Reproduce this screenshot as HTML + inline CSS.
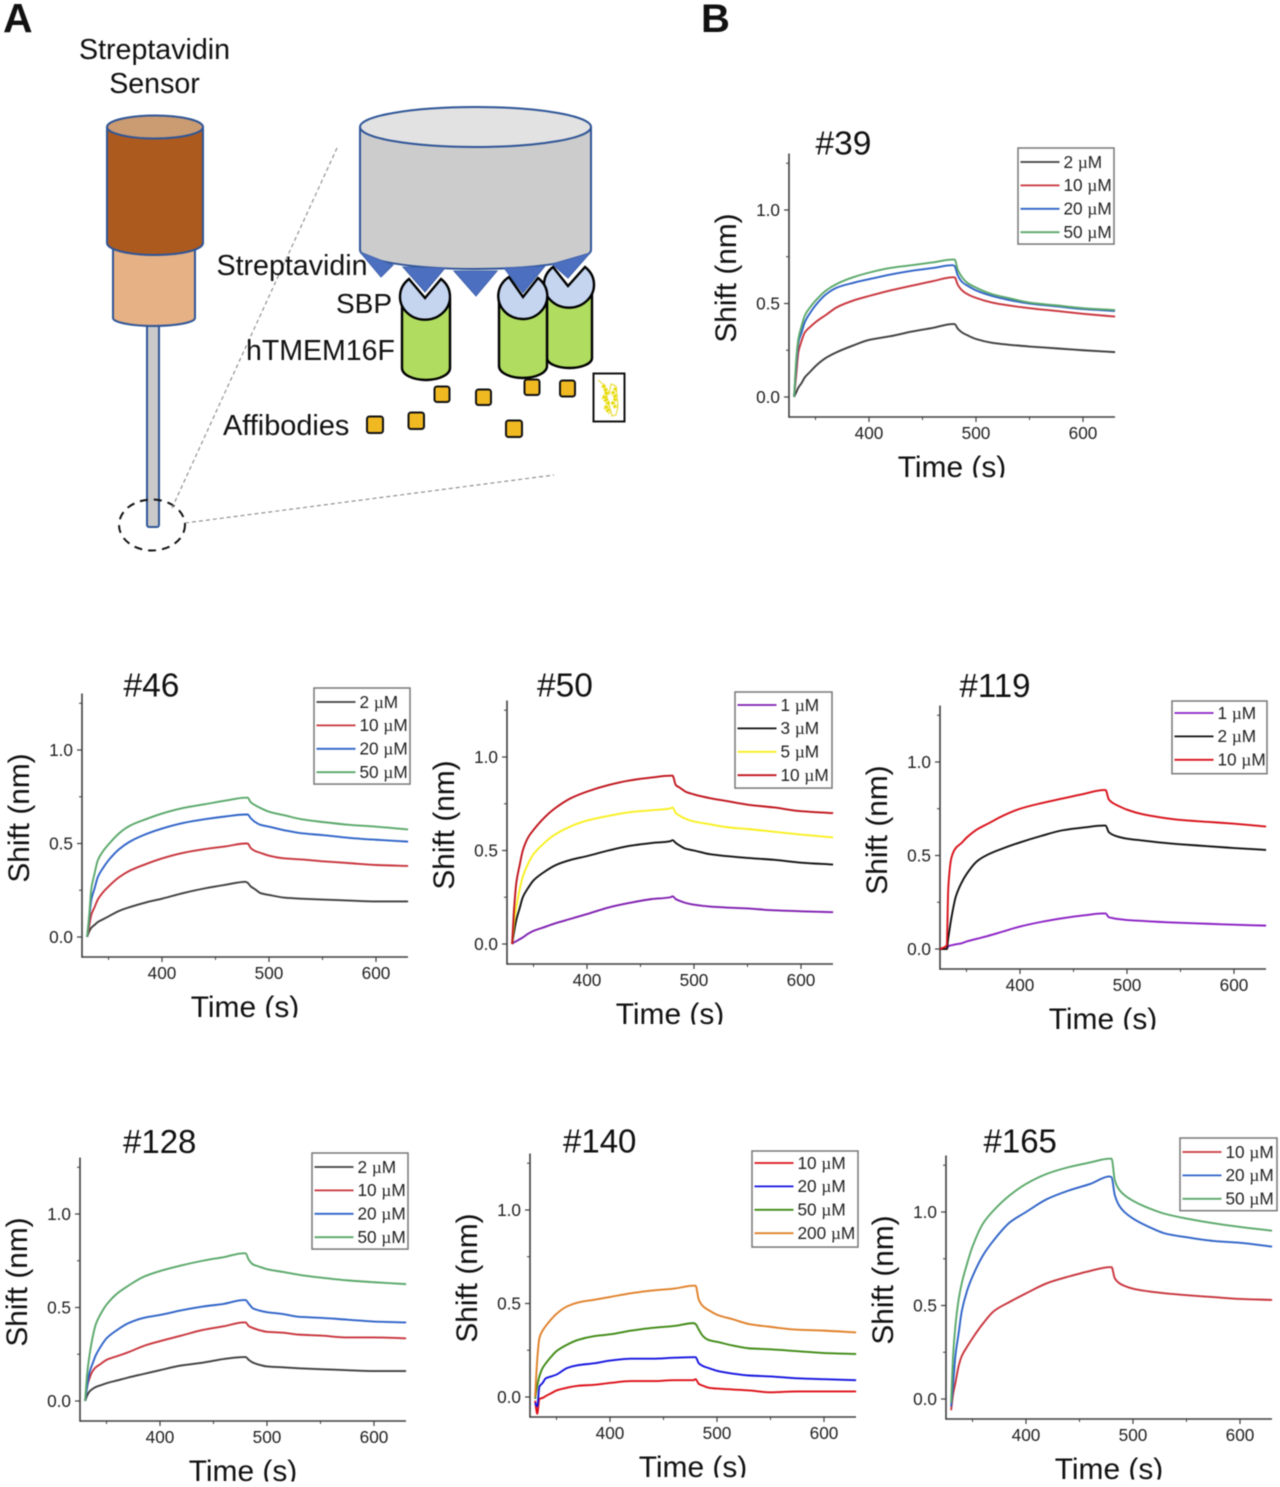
<!DOCTYPE html>
<html lang="en">
<head>
<meta charset="utf-8">
<title>Streptavidin sensor schematic and affibody binding curves</title>
<style>
html,body{margin:0;padding:0;background:#fff;}
#figure{display:block;width:1280px;height:1487px;filter:blur(0.45px);font-family:"Liberation Sans",sans-serif;}
</style>
</head>
<body>
<svg id="figure" xmlns="http://www.w3.org/2000/svg" width="1280" height="1487" viewBox="0 0 1280 1487">
  <rect x="0" y="0" width="1280" height="1487" fill="#fff"/>
  <text x="3" y="32" font-size="41" font-weight="bold" fill="#111">A</text>
  <text x="701" y="32" font-size="40" font-weight="bold" fill="#111">B</text>

  <g>
    <text x="154.5" y="59" font-size="28.6" text-anchor="middle" fill="#111">Streptavidin</text>
    <text x="154.5" y="93" font-size="28.6" text-anchor="middle" fill="#111">Sensor</text>

    <g stroke="#2f5597" stroke-width="2">
      <rect x="147" y="320" width="12" height="207" rx="2" fill="#c9c9c9"/>
      <path d="M113,245 V318 A41,8 0 0 0 195,318 V245 Z" fill="#e5b185"/>
      <path d="M107,128 V243 A48,12 0 0 0 203,243 V128 Z" fill="#ad5a1f"/>
      <ellipse cx="155" cy="127" rx="48" ry="11.5" fill="#cb9b72"/>
    </g>
    <ellipse cx="152" cy="525" rx="33" ry="25.5" fill="none" stroke="#111" stroke-width="2" stroke-dasharray="8 6"/>
    <line x1="337" y1="148" x2="172" y2="508" stroke="#888" stroke-width="1.1" stroke-dasharray="4 3"/>
    <line x1="185" y1="523" x2="554" y2="475" stroke="#888" stroke-width="1.1" stroke-dasharray="4 3"/>

    <g stroke="#2f5597" stroke-width="2">
      <path d="M360,127 V250 A115.5,19 0 0 0 591,250 V127 Z" fill="#cccccc"/>
      <ellipse cx="475.5" cy="127" rx="115.5" ry="20" fill="#e2e2e2"/>
    </g>
    <g fill="#4d6fc0" stroke="#3f62ad" stroke-width="1">
      <polygon points="360,252 393,265 381,277"/>
      <polygon points="454,271 497,271 476,296"/>
    </g>

    <g stroke="#000" stroke-width="2.4">
      <path d="M547,290 V358 A22.5,10 0 0 0 592,358 V290 Z" fill="#b0dd60"/>
      <path d="M553,267 L568,286 L585,267 A25,23 0 1 1 553,267 Z" fill="#c5d5f0"/>
    </g>
    <g stroke="#000" stroke-width="2.4">
      <path d="M499,300 V366 A24,12 0 0 0 547,366 V300 Z" fill="#b0dd60"/>
      <path d="M509,277 L523,297 L538,278 A24.5,23 0 1 1 509,277 Z" fill="#c5d5f0"/>
    </g>
    <g stroke="#000" stroke-width="2.4">
      <path d="M402,300 V368 A24,12 0 0 0 450,368 V300 Z" fill="#b0dd60"/>
      <path d="M409,279 L425,298 L441,279 A25,23 0 1 1 409,279 Z" fill="#c5d5f0"/>
    </g>
    <g fill="#4d6fc0" stroke="#3f62ad" stroke-width="1">
      <polygon points="504,268 545,266 523,293"/>
      <polygon points="552,264 590,253 568,278"/>
      <polygon points="403,267 445,268 425,292"/>
    </g>

    <g fill="#f0b922" stroke="#111" stroke-width="2">
      <rect x="434.5" y="386.5" width="15" height="15.5" rx="2.5"/>
      <rect x="476" y="389.5" width="15" height="15.5" rx="2.5"/>
      <rect x="524.5" y="379.5" width="15" height="15.5" rx="2.5"/>
      <rect x="560" y="380.5" width="15" height="16" rx="2.5"/>
      <rect x="367" y="416.5" width="16" height="16.5" rx="2.5"/>
      <rect x="408.5" y="412.5" width="15.5" height="16.5" rx="2.5"/>
      <rect x="506" y="420.5" width="16" height="16.5" rx="2.5"/>
    </g>
    <g>
      <rect x="593.5" y="373.5" width="31" height="48" fill="#fff" stroke="#111" stroke-width="2"/>
      <path d="M598,380 L604,385 L612,416 L616,415 L618,406 L616,386 L611,384 L609,395" fill="none" stroke="#e6d820" stroke-width="1"/>
      <path d="M603,385 L607,392 L604,398 L608,403 L606,408 L610,413" fill="none" stroke="#e8dc10" stroke-width="4" stroke-dasharray="3 1"/>
      <path d="M616,388 L613,393 L616,398 L613,403 L616,408" fill="none" stroke="#e8dc10" stroke-width="3.6" stroke-dasharray="3 1"/>
    </g>

    <text x="216.5" y="275" font-size="28.6" fill="#111">Streptavidin</text>
    <text x="336" y="313" font-size="28" fill="#111">SBP</text>
    <text x="246" y="360" font-size="28.5" fill="#111">hTMEM16F</text>
    <text x="223" y="435" font-size="28.9" fill="#111">Affibodies</text>
  </g>
  <g id="charts"></g>
</svg>

<script>
// ---------- Sample times (s) ----------
const sharedTimes = [330,332,334,337,340,345,350,360,370,385,400,420,440,460,478,480,483,487,492,500,515,530,550,575,600,630];
const clone119Times = [325,331.5,333,336,340,345,350,360,370,385,400,420,440,460,478,480,483,487,492,500,515,530,550,575,600,630];

// ---------- Tick labels ----------
const xMajorTicks = [400,500,600];
const xMinorTicks = [350,450,550];
const yMajorTicks = [0,0.5,1.0];
const yMinorTicks = [0.25,0.75,1.25];

// ---------- Clone #39 ----------
const c39Labels = ["2 µM","10 µM","20 µM","50 µM"];
const c39_2 = [0,.025,.05,.075,.105,.135,.165,.21,.24,.275,.305,.325,.35,.37,.39,.39,.365,.345,.33,.31,.29,.28,.27,.26,.25,.24];
const c39_10 = [0,.12,.24,.3,.345,.375,.4,.44,.48,.515,.54,.57,.595,.62,.64,.64,.6,.57,.55,.53,.505,.49,.475,.46,.445,.43];
const c39_20 = [0,.17,.29,.345,.4,.45,.49,.55,.585,.61,.63,.655,.675,.69,.705,.7,.65,.615,.595,.57,.54,.52,.5,.485,.47,.46];
const c39_50 = [0,.2,.31,.38,.435,.48,.515,.57,.605,.64,.665,.69,.705,.72,.735,.735,.68,.64,.61,.585,.55,.53,.505,.49,.475,.465];

// ---------- Clone #46 ----------
const c46Labels = ["2 µM","10 µM","20 µM","50 µM"];
const c46_2 = [0,.03,.05,.065,.08,.095,.11,.14,.16,.185,.205,.235,.26,.28,.295,.29,.27,.255,.235,.225,.21,.205,.2,.195,.19,.19];
const c46_10 = [0,.06,.12,.16,.2,.24,.27,.32,.355,.39,.42,.45,.47,.485,.5,.5,.475,.46,.45,.435,.42,.415,.405,.395,.385,.38];
const c46_20 = [0,.1,.2,.26,.32,.37,.41,.47,.51,.55,.58,.61,.63,.645,.655,.655,.635,.615,.6,.59,.57,.555,.545,.53,.52,.51];
const c46_50 = [0,.12,.26,.34,.41,.46,.495,.555,.595,.63,.66,.69,.71,.73,.745,.745,.72,.705,.69,.67,.65,.63,.615,.6,.59,.575];

// ---------- Clone #50 ----------
const c50Labels = ["1 µM","3 µM","5 µM","10 µM"];
const c50_1 = [0,.01,.015,.025,.035,.055,.07,.09,.11,.135,.16,.195,.22,.24,.25,.255,.24,.23,.22,.21,.2,.195,.19,.18,.175,.17];
const c50_3 = [0,.07,.13,.19,.25,.3,.34,.385,.42,.45,.47,.5,.525,.54,.55,.555,.54,.525,.51,.5,.48,.47,.46,.45,.435,.425];
const c50_5 = [0,.12,.2,.29,.36,.43,.48,.54,.585,.63,.66,.685,.705,.715,.725,.73,.7,.685,.67,.655,.64,.625,.615,.6,.585,.57];
const c50_10 = [0,.2,.33,.42,.5,.57,.61,.675,.725,.78,.815,.85,.875,.89,.9,.9,.85,.835,.815,.8,.78,.765,.745,.73,.71,.7];

// ---------- Clone #119 ----------
const c119Labels = ["1 µM","2 µM","10 µM"];
const c119_1 = [0,0,.015,.02,.025,.03,.04,.055,.07,.095,.12,.145,.165,.18,.19,.19,.17,.165,.16,.155,.15,.145,.14,.135,.13,.125];
const c119_2 = [0,0,.06,.17,.28,.35,.4,.47,.505,.54,.57,.605,.635,.65,.66,.66,.625,.61,.6,.59,.58,.57,.56,.55,.54,.53];
const c119_10 = [0,.02,.33,.49,.54,.565,.595,.64,.67,.715,.75,.78,.805,.83,.85,.85,.8,.78,.765,.745,.72,.705,.69,.68,.67,.655];

// ---------- Clone #128 ----------
const c128Labels = ["2 µM","10 µM","20 µM","50 µM"];
const c128_2 = [0,.03,.05,.065,.075,.085,.095,.11,.125,.145,.165,.19,.205,.225,.235,.235,.22,.205,.195,.185,.18,.175,.17,.165,.16,.16];
const c128_10 = [0,.08,.12,.16,.18,.2,.22,.24,.26,.295,.32,.35,.38,.4,.42,.42,.4,.39,.38,.37,.365,.355,.35,.34,.34,.335];
const c128_20 = [0,.08,.15,.2,.245,.295,.335,.38,.415,.445,.46,.485,.505,.52,.54,.54,.52,.495,.485,.475,.465,.45,.445,.435,.425,.42];
const c128_50 = [0,.15,.24,.34,.41,.47,.515,.575,.615,.665,.695,.725,.75,.77,.79,.79,.755,.73,.72,.705,.69,.675,.66,.645,.635,.625];

// ---------- Clone #140 ----------
const c140Labels = ["10 µM","20 µM","50 µM","200 µM"];
const c140_10 = [-.02,-.09,-.01,-.005,.005,.02,.035,.05,.06,.065,.075,.085,.085,.09,.09,.095,.07,.06,.05,.045,.04,.035,.025,.03,.03,.03];
const c140_20 = [-.03,-.05,.055,.075,.1,.11,.12,.155,.17,.18,.195,.205,.205,.21,.213,.213,.18,.165,.155,.14,.125,.115,.11,.1,.095,.09];
const c140_50 = [-.01,.06,.11,.155,.18,.215,.245,.28,.305,.325,.335,.355,.37,.38,.395,.39,.36,.325,.305,.295,.275,.26,.255,.245,.235,.23];
const c140_200 = [0,.2,.315,.355,.38,.415,.445,.485,.505,.52,.535,.555,.57,.58,.595,.595,.52,.485,.465,.44,.415,.39,.375,.36,.355,.345];

// ---------- Clone #165 ----------
const c165Labels = ["10 µM","20 µM","50 µM"];
const c165_10 = [-.06,.03,.085,.175,.23,.28,.325,.405,.47,.52,.565,.62,.655,.685,.705,.705,.645,.62,.605,.59,.575,.565,.555,.545,.535,.53];
const c165_20 = [-.04,.085,.23,.35,.47,.58,.655,.77,.85,.945,1.0,1.07,1.115,1.15,1.19,1.185,1.09,1.035,1.0,.965,.92,.885,.865,.845,.835,.815];
const c165_50 = [-.02,.245,.39,.53,.62,.725,.815,.94,1.01,1.09,1.15,1.205,1.24,1.265,1.285,1.285,1.17,1.12,1.09,1.06,1.02,.99,.965,.94,.92,.9];

// ---------- Helpers ----------
const SVG_NS = "http://www.w3.org/2000/svg";
const AXIS_COLOR = "#3d3d3d";
const TEXT_COLOR = "#222";
function make(tag, attrs, parent, text) {
  const el = document.createElementNS(SVG_NS, tag);
  for (const k in attrs) el.setAttribute(k, attrs[k]);
  if (text !== undefined) el.textContent = text;
  parent.appendChild(el);
  return el;
}

// Monotone cubic path through the scaled data points
function curvePath(xs, ys) {
  const n = xs.length;
  const d = [];
  for (let i = 0; i < n - 1; i++) d.push((ys[i + 1] - ys[i]) / (xs[i + 1] - xs[i]));
  const m = new Array(n).fill(0);
  m[0] = d[0];
  m[n - 1] = d[n - 2];
  for (let i = 1; i < n - 1; i++) {
    if (d[i - 1] * d[i] > 0) {
      const h0 = xs[i] - xs[i - 1], h1 = xs[i + 1] - xs[i];
      const w1 = 2 * h1 + h0, w2 = h1 + 2 * h0;
      m[i] = (w1 + w2) / (w1 / d[i - 1] + w2 / d[i]);
    }
  }
  let path = "M" + xs[0].toFixed(2) + "," + ys[0].toFixed(2);
  for (let i = 0; i < n - 1; i++) {
    const h = (xs[i + 1] - xs[i]) / 3;
    path += "C" + (xs[i] + h).toFixed(2) + "," + (ys[i] + m[i] * h).toFixed(2) + " " +
            (xs[i + 1] - h).toFixed(2) + "," + (ys[i + 1] - m[i + 1] * h).toFixed(2) + " " +
            xs[i + 1].toFixed(2) + "," + ys[i + 1].toFixed(2);
  }
  return path;
}

function drawPanel(cfg) {
  const root = document.getElementById("charts");
  const g = make("g", {}, root);
  
  

  // Axis functions
  const xScale = t => cfg.x400 + (t - 400) * 1.07;
  const yScale = v => cfg.y0 - v * 187;
  const left = cfg.x400 - 80;
  const right = cfg.x400 + 246;
  const bottom = cfg.y0 + 20;
  const top = cfg.y0 - 243.5;

  const title = make("text", {x: cfg.titleX, y: cfg.y0 - (cfg.titleDy || 240.5), "font-size": cfg.titleSize || 33.5, fill: "#111"}, g, cfg.title);
  
  

  const yAxis = make("line", {x1: left, y1: top, x2: left, y2: bottom + 0.7, stroke: AXIS_COLOR, "stroke-width": 1.6}, g);
  
  
  const xAxis = make("line", {x1: left, y1: bottom, x2: right, y2: bottom, stroke: AXIS_COLOR, "stroke-width": 1.6}, g);
  
  

  yMajorTicks.forEach(v => {
    const tick = make("line", {x1: left - 5, y1: yScale(v), x2: left, y2: yScale(v), stroke: AXIS_COLOR, "stroke-width": 1.2}, g);
    
    
    const label = make("text", {x: left - 9, y: yScale(v) + 6, "font-size": 17.2, "text-anchor": "end", fill: TEXT_COLOR}, g, v.toFixed(1));
    
    
  });
  yMinorTicks.forEach(v => {
    const tick = make("line", {x1: left - 3, y1: yScale(v), x2: left, y2: yScale(v), stroke: AXIS_COLOR, "stroke-width": 1}, g);
    
    
  });
  xMajorTicks.forEach(t => {
    const tick = make("line", {x1: xScale(t), y1: bottom, x2: xScale(t), y2: bottom + 5, stroke: AXIS_COLOR, "stroke-width": 1.2}, g);
    
    
    const label = make("text", {x: xScale(t), y: bottom + 22, "font-size": 17.2, "text-anchor": "middle", fill: TEXT_COLOR}, g, String(t));
    
    
  });
  xMinorTicks.forEach(t => {
    const tick = make("line", {x1: xScale(t), y1: bottom, x2: xScale(t), y2: bottom + 3, stroke: AXIS_COLOR, "stroke-width": 1}, g);
    
    
  });

  const yBase = left - 53;
  const yMid = cfg.y0 - 119;
  const yTitle = make("text", {x: yBase, y: yMid, "font-size": 29.8, "text-anchor": "middle", fill: "#111", transform: "rotate(-90 " + yBase + " " + yMid + ")"}, g, "Shift (nm)");
  
  

  const xBase = bottom + 60;
  const xTitle = make("text", {x: left + 163, y: xBase, "font-size": 29.9, "text-anchor": "middle", fill: "#111"}, g, "Time (s)");
  
  
  const titleClip = make("rect", {x: left + 90, y: xBase + 0.5, width: 150, height: 9, fill: "#fff"}, g);
  
  

  // Series
  cfg.series.forEach(s => {
    const xs = cfg.times.map(t => xScale(t));
    const ys = s.values.map(v => yScale(v));
    const line = make("path", {d: curvePath(xs, ys), fill: "none", stroke: s.color, "stroke-width": 1.9, "stroke-linejoin": "round"}, g);
    
    
  });

  // Legend
  const legend = make("g", {}, g);
  
  
  const rows = cfg.series.length;
  const frame = make("rect", {x: cfg.legX, y: cfg.legY, width: cfg.legW, height: rows * 23.4 + 2.5, fill: "#fff", stroke: "#777", "stroke-width": 1.5}, legend);
  
  
  cfg.series.forEach((s, i) => {
    const rowY = cfg.legY + (cfg.legPad || 14) + i * 23.4;
    const sw = make("line", {x1: cfg.legX + 2.5, y1: rowY, x2: cfg.legX + 41.5, y2: rowY, stroke: s.color, "stroke-width": 1.8}, legend);
    
    
    const parts = s.label.split("µ");
    const tx = make("text", {x: cfg.legX + 45.5, y: rowY + 5.8, "font-size": 17.2, fill: TEXT_COLOR}, legend);
    
    
    make("tspan", {}, tx, parts[0]);
    make("tspan", {"font-family": '"Liberation Serif", serif'}, tx, "µ");
    make("tspan", {}, tx, parts[1]);
  });
}

const GREY = "#3e3e3e", RED = "#c8343c", BLUE = "#2f63c8", GREEN = "#5aa86a";

drawPanel({id:"39", title:"#39", titleX:815.5, titleDy:242.5, x400:869, y0:397, legX:1018, legY:148, legW:96, times:sharedTimes,
  series:[{label:c39Labels[0],color:GREY,values:c39_2},{label:c39Labels[1],color:RED,values:c39_10},{label:c39Labels[2],color:BLUE,values:c39_20},{label:c39Labels[3],color:GREEN,values:c39_50}]});
drawPanel({id:"46", title:"#46", titleX:123.5, x400:162, y0:937, legX:314, legY:688, legW:96, times:sharedTimes,
  series:[{label:c46Labels[0],color:GREY,values:c46_2},{label:c46Labels[1],color:RED,values:c46_10},{label:c46Labels[2],color:BLUE,values:c46_20},{label:c46Labels[3],color:GREEN,values:c46_50}]});
drawPanel({id:"50", title:"#50", titleX:537, titleDy:247.5, x400:587, y0:944, legX:735, legY:692, legPad:13, legW:97, times:sharedTimes,
  series:[{label:c50Labels[0],color:"#7f1fb0",values:c50_1},{label:c50Labels[1],color:"#111",values:c50_3},{label:c50Labels[2],color:"#f8f020",values:c50_5},{label:c50Labels[3],color:"#c0141c",values:c50_10}]});
drawPanel({id:"119", title:"#119", titleX:959.5, titleDy:252, titleSize:33, x400:1020, y0:949, legX:1172, legY:701, legPad:12, legW:95, times:clone119Times,
  series:[{label:c119Labels[0],color:"#8a20c4",values:c119_1},{label:c119Labels[1],color:"#111",values:c119_2},{label:c119Labels[2],color:"#d81018",values:c119_10}]});
drawPanel({id:"128", title:"#128", titleX:123, titleDy:248, titleSize:33, x400:160, y0:1401, legX:312, legY:1153, legW:96, times:sharedTimes,
  series:[{label:c128Labels[0],color:GREY,values:c128_2},{label:c128Labels[1],color:RED,values:c128_10},{label:c128Labels[2],color:BLUE,values:c128_20},{label:c128Labels[3],color:GREEN,values:c128_50}]});
drawPanel({id:"140", title:"#140", titleX:563, titleDy:244.5, titleSize:33, x400:610, y0:1397, legX:752, legY:1151, legPad:12, legW:106, times:sharedTimes,
  series:[{label:c140Labels[0],color:"#dc1018",values:c140_10},{label:c140Labels[1],color:"#1414e0",values:c140_20},{label:c140Labels[2],color:"#3f8a14",values:c140_50},{label:c140Labels[3],color:"#e08028",values:c140_200}]});
drawPanel({id:"165", title:"#165", titleX:983.5, titleDy:246.5, titleSize:33, x400:1026, y0:1399, legX:1180, legY:1138, legW:97, times:sharedTimes,
  series:[{label:c165Labels[0],color:RED,values:c165_10},{label:c165Labels[1],color:BLUE,values:c165_20},{label:c165Labels[2],color:GREEN,values:c165_50}]});
</script>
</body>
</html>
